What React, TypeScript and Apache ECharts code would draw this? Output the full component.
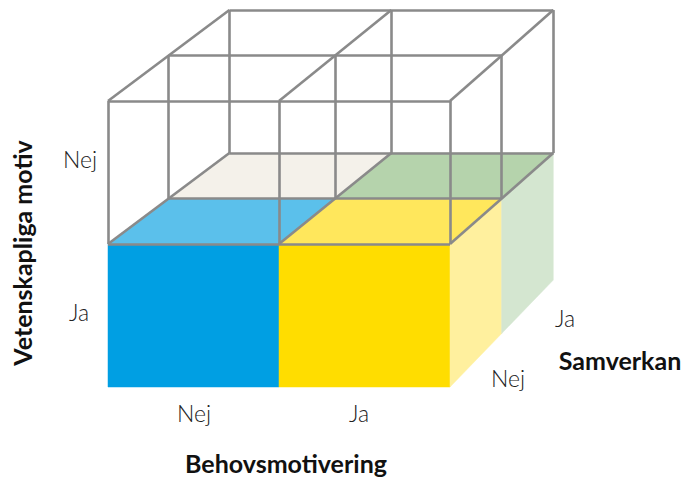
import React, { useEffect, useRef } from "react";
import * as echarts from "echarts";

// Category labels of the three dimensions
const behovsmotivering = ["Nej", "Ja"]; // x (left → right)
const vetenskapligaMotiv = ["Ja", "Nej"]; // y (bottom → top)
const samverkan = ["Nej", "Ja"]; // depth (front → back)

// Filled cells of the lower layer (Vetenskapliga motiv = Ja): [behov index, samverkan index]
const filledCells = [
  [0, 0],
  [1, 0],
  [0, 1],
  [1, 1],
];

// Palette
const FRONT_COLORS = ["#009FE3", "#FFDD00"];
const TOP_COLORS = [
  ["#5BC0EB", "#FFE75C"],
  ["#F4F1EA", "#B5D3AC"],
];
const SIDE_COLORS = ["#FFF09E", "#D4E6D0"];
const LINE_COLOR = "#8A8A8A";

// oblique projection parameters (data units)
const DX = 0.355;
const SHRINK = 0.0265;
const DY = 0.318;
const DY_LOW = 0.374;

function proj(i: number, j: number, k: number): [number, number] {
  const x = i * (1 - SHRINK * k) + DX * k;
  const dy = j >= 1 ? DY : DY_LOW + (DY - DY_LOW) * j;
  return [x, j + k * dy];
}

type Face = { pts: [number, number][]; color: string };

function buildFaces(): Face[] {
  const faces: Face[] = [];
  for (let i = 0; i < behovsmotivering.length; i++) {
    faces.push({
      pts: [proj(i, 0, 0), proj(i + 1, 0, 0), proj(i + 1, 1, 0), proj(i, 1, 0)],
      color: FRONT_COLORS[i],
    });
  }
  const nI = behovsmotivering.length;
  for (let k = 0; k < samverkan.length; k++) {
    faces.push({
      pts: [proj(nI, 0, k), proj(nI, 0, k + 1), proj(nI, 1, k + 1), proj(nI, 1, k)],
      color: SIDE_COLORS[k],
    });
  }
  filledCells.forEach(([i, k]) => {
    faces.push({
      pts: [proj(i, 1, k), proj(i + 1, 1, k), proj(i + 1, 1, k + 1), proj(i, 1, k + 1)],
      color: TOP_COLORS[k][i],
    });
  });
  return faces;
}

function buildEdges(): [number, number][][] {
  const edges: [number, number][][] = [];
  const nI = behovsmotivering.length;
  const nK = samverkan.length;
  for (let j = 1; j <= 2; j++) {
    for (let k = 0; k <= nK; k++) edges.push([proj(0, j, k), proj(nI, j, k)]);
    for (let i = 0; i <= nI; i++) edges.push([proj(i, j, 0), proj(i, j, nK)]);
  }
  for (let i = 0; i <= nI; i++)
    for (let k = 0; k <= nK; k++) edges.push([proj(i, 1, k), proj(i, 2, k)]);
  return edges;
}

export default function App() {
  const ref = useRef<HTMLDivElement>(null);
  useEffect(() => {
    if (!ref.current) return;
    const chart = echarts.init(ref.current, null, { renderer: "svg" });
    const faces = buildFaces();
    const edges = buildEdges();
    const lightFont = { fontFamily: "Lato", fontWeight: 300, fontSize: 23, fill: "#222" };
    const boldFont = { fontFamily: "Lato", fontWeight: "bold", fontSize: 25, fill: "#111" };
    chart.setOption({
      animation: false,
      backgroundColor: "#fff",
      grid: { left: 108, right: 238, top: 101, bottom: 92 },
      xAxis: { type: "value", min: 0, max: 2, show: false },
      yAxis: { type: "value", min: 0, max: 2, show: false },
      series: [
        {
          type: "custom",
          clip: false,
          silent: true,
          data: faces.map((_, idx) => [idx]),
          renderItem: (params: any, api: any) => {
            const f = faces[params.dataIndex];
            return {
              type: "polygon",
              shape: { points: f.pts.map((p) => api.coord(p)) },
              style: { fill: f.color, stroke: f.color, lineWidth: 0.5 },
            };
          },
          z: 1,
        },
        {
          type: "lines",
          coordinateSystem: "cartesian2d",
          clip: false,
          silent: true,
          lineStyle: { color: LINE_COLOR, width: 2.6, opacity: 1 },
          data: edges.map((c) => ({ coords: c })),
          z: 2,
        },
      ],
      graphic: [
        { type: "text", x: 80, y: 159, style: { text: vetenskapligaMotiv[1], ...lightFont, align: "center", verticalAlign: "middle" } },
        { type: "text", x: 79, y: 312, style: { text: vetenskapligaMotiv[0], ...lightFont, align: "center", verticalAlign: "middle" } },
        { type: "text", x: 194, y: 413, style: { text: behovsmotivering[0], ...lightFont, align: "center", verticalAlign: "middle" } },
        { type: "text", x: 359, y: 413, style: { text: behovsmotivering[1], ...lightFont, align: "center", verticalAlign: "middle" } },
        { type: "text", x: 508, y: 378, style: { text: samverkan[0], ...lightFont, align: "center", verticalAlign: "middle" } },
        { type: "text", x: 565, y: 318, style: { text: samverkan[1], ...lightFont, align: "center", verticalAlign: "middle" } },
        { type: "text", x: 286, y: 463, style: { text: "Behovsmotivering", ...boldFont, align: "center", verticalAlign: "middle" } },
        { type: "text", x: 620, y: 360, style: { text: "Samverkan", ...boldFont, align: "center", verticalAlign: "middle" } },
        { type: "text", x: 22, y: 253, rotation: Math.PI / 2, style: { text: "Vetenskapliga motiv", ...boldFont, align: "center", verticalAlign: "middle" } },
      ],
    });
    return () => chart.dispose();
  }, []);
  return <div ref={ref} style={{ position: "fixed", left: 0, top: 0, width: 688, height: 479 }} />;
}
